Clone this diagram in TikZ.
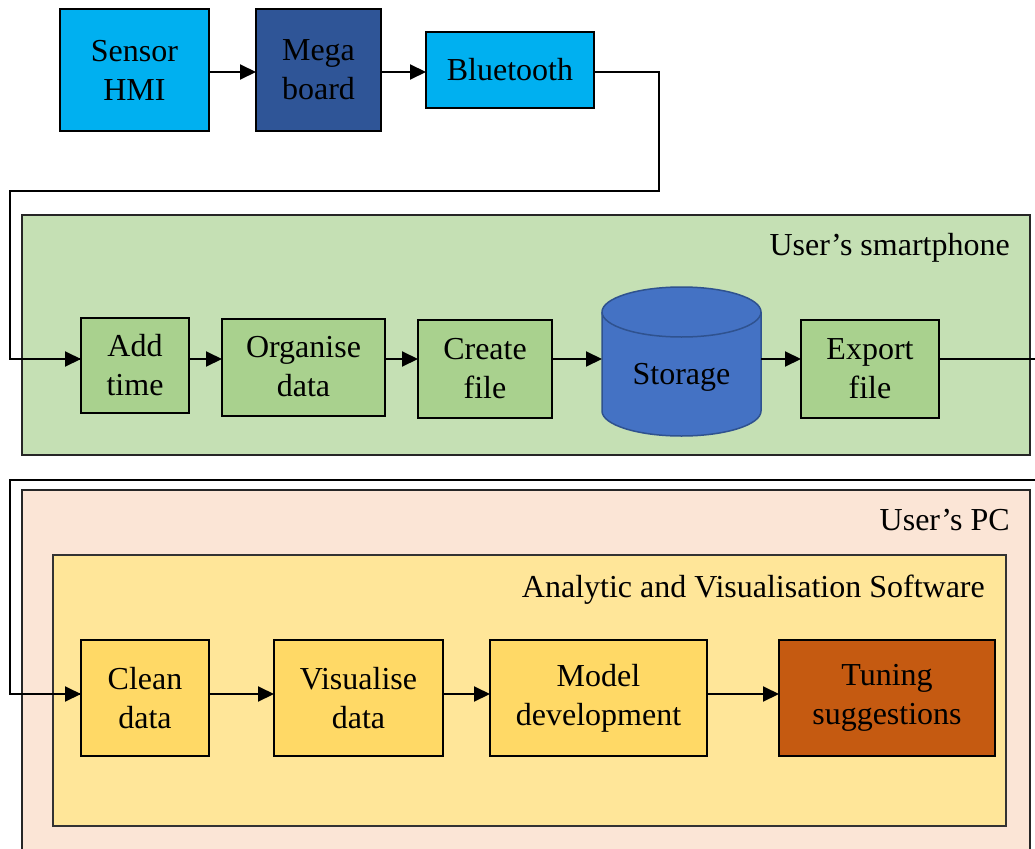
\documentclass[tikz,border=0pt]{standalone}
\usepackage{fontspec}
\setmainfont{Liberation Serif}
\usetikzlibrary{arrows.meta}
\definecolor{cyanb}{HTML}{00B0F0}
\definecolor{darkb}{HTML}{2F5597}
\definecolor{grnbg}{HTML}{C5E0B4}
\definecolor{grnbox}{HTML}{A9D18E}
\definecolor{storef}{HTML}{4472C4}
\definecolor{stored}{HTML}{2F528F}
\definecolor{pcbg}{HTML}{FBE5D6}
\definecolor{swbg}{HTML}{FFE699}
\definecolor{ylbox}{HTML}{FFD966}
\definecolor{orbox}{HTML}{C55A11}
\tikzset{
  blk/.style={draw=black, line width=2pt, align=center, inner sep=0pt, outer sep=0pt,
    font=\fontsize{32}{39}\selectfont, text=black},
  grp/.style={draw=black!85, line width=2pt, inner sep=0pt, outer sep=0pt},
  lbl/.style={font=\fontsize{32}{39}\selectfont, anchor=base east, inner sep=0pt},
  conn/.style={line width=2pt, -{Triangle[length=16pt,width=15pt]}},
  wire/.style={line width=2pt}
}
\begin{document}
\begin{tikzpicture}[x=1pt,y=-1pt]
\useasboundingbox (0,0) rectangle (1035,848);
\clip (0,0) rectangle (1035,848);
% group boxes
\node[grp, fill=grnbg, minimum width=1008pt, minimum height=240pt] (phone) at (526,335) {};
\node[lbl] (phonelbl) at (1010,255) {User’s smartphone};
\node[grp, fill=pcbg, minimum width=1008pt, minimum height=380pt] (pc) at (526,680) {};
\node[lbl] (pclbl) at (1010,530) {User’s PC};
\node[draw=black!80, line width=1.5pt, fill=swbg, minimum width=953pt, minimum height=271pt, inner sep=0pt, outer sep=0pt] (sw) at (529.5,690.5) {};
\node[lbl] (swlbl) at (985,597) {Analytic and Visualisation Software};
% top row
\node[blk, fill=cyanb, minimum width=149pt, minimum height=122pt] (sensor) at (134.5,70) {Sensor\\HMI};
\node[blk, fill=darkb, minimum width=125pt, minimum height=122pt] (mega) at (318.5,70) {Mega\\board};
\node[blk, fill=cyanb, minimum width=168pt, minimum height=76pt] (bt) at (510,70) {Bluetooth};
% phone row
\node[blk, fill=grnbox, minimum width=108pt, minimum height=95pt] (addt) at (135,365.5) {Add\\time};
\node[blk, fill=grnbox, minimum width=163pt, minimum height=97pt] (org) at (303.5,367) {Organise\\data};
\node[blk, fill=grnbox, minimum width=134pt, minimum height=98pt] (create) at (485,368.5) {Create\\file};
% storage cylinder
\coordinate (stl) at (602,312);
\coordinate (str) at (761,312);
\fill[storef] (602,312) arc[start angle=180,end angle=0,x radius=79.5pt,y radius=25pt]
  -- (761,411) arc[start angle=0,end angle=-180,x radius=79.5pt,y radius=25pt] -- cycle;
\draw[stored, line width=1.5pt] (602,312) arc[start angle=180,end angle=-180,x radius=79.5pt,y radius=25pt];
\draw[stored, line width=1.5pt] (602,312) -- (602,411) arc[start angle=180,end angle=360,x radius=79.5pt,y radius=25pt] -- (761,312);
\node[font=\fontsize{32}{39}\selectfont, inner sep=0pt, anchor=base] (storage) at (681.5,384) {Storage};
\node[blk, fill=grnbox, minimum width=138pt, minimum height=98pt] (export) at (870,368.5) {Export\\file};
% pc row
\node[blk, fill=ylbox, minimum width=128pt, minimum height=116pt] (clean) at (145,698) {Clean\\data};
\node[blk, fill=ylbox, minimum width=169pt, minimum height=116pt] (vis) at (358.5,698) {Visualise\\data};
\node[blk, fill=ylbox, minimum width=217pt, minimum height=116pt] (model) at (598.5,698) {Model\\development};
\node[blk, fill=orbox, minimum width=216pt, minimum height=116pt] (tune) at (887,698) {Tuning\\suggestions};
% connectors
\draw[conn] (sensor.east |- 0,72) -- (mega.west |- 0,72);
\draw[conn] (mega.east |- 0,72) -- (bt.west |- 0,72);
\coordinate (c1) at (659,191);
\coordinate (c2) at (10,191);
\draw[wire] (bt.east |- 0,72) -| (c1) -- (c2) |- (addt.west |- 0,359);
\draw[conn] (40,359) -- (addt.west |- 0,359);
\draw[conn] (addt.east |- 0,359) -- (org.west |- 0,359);
\draw[conn] (org.east |- 0,359) -- (create.west |- 0,359);
\draw[conn] (create.east |- 0,359) -- (stl |- 0,359);
\draw[conn] (str |- 0,359) -- (export.west |- 0,359);
\coordinate (c3) at (1050,359);
\coordinate (c4) at (1050,480);
\coordinate (c5) at (10,480);
\draw[wire] (export.east |- 0,359) -- (c3) -- (c4) -- (c5) |- (clean.west |- 0,694);
\draw[conn] (40,694) -- (clean.west |- 0,694);
\draw[conn] (clean.east |- 0,694) -- (vis.west |- 0,694);
\draw[conn] (vis.east |- 0,694) -- (model.west |- 0,694);
\draw[conn] (model.east |- 0,694) -- (tune.west |- 0,694);
\end{tikzpicture}
\end{document}
